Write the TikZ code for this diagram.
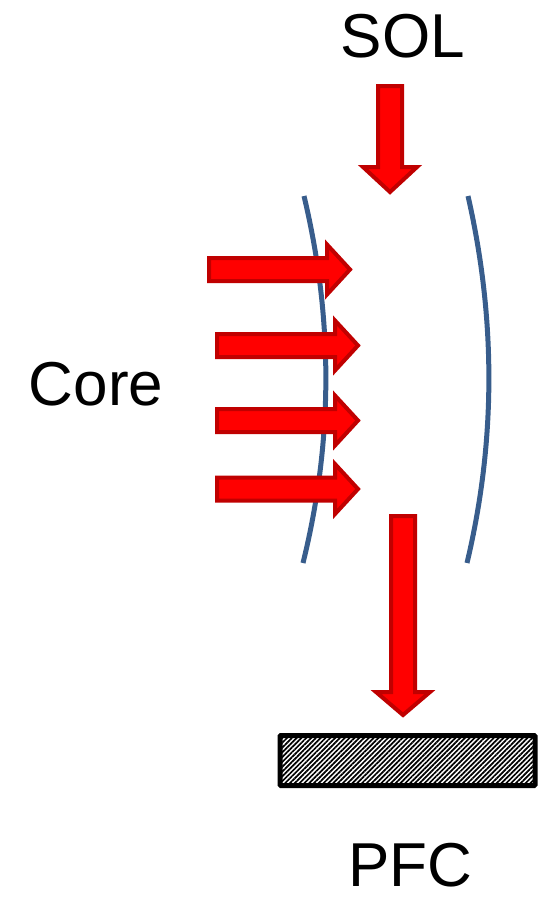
\documentclass[tikz,border=0pt]{standalone}
\usepackage{fontspec}
\setmainfont{Liberation Sans}
\usetikzlibrary{patterns.meta}
\definecolor{arrfill}{RGB}{255,0,0}
\definecolor{arrline}{RGB}{192,0,0}
\definecolor{curveblue}{RGB}{56,93,140}
\tikzset{
  bigarrow/.style={fill=arrfill, draw=arrline, line width=4pt, line join=miter},
  sepline/.style={draw=curveblue, line width=5pt},
  lbl/.style={font=\fontsize{62}{70}\selectfont, anchor=base, inner sep=0pt},
  pfcbox/.style={draw=black, line width=5pt, rounded corners=1pt,
    pattern={Lines[angle=45, distance=3.4pt, line width=1.7pt]}}
}
% horizontal arrow: left x, center y, head base x, tip x
\newcommand\hArrow[4]{%
  \path[bigarrow] (#1,#2-11.5) -- (#3,#2-11.5) -- (#3,#2-25) -- (#4,#2)
    -- (#3,#2+25) -- (#3,#2+11.5) -- (#1,#2+11.5) -- cycle;}
% vertical arrow: center x, top y, head base y, tip y
\newcommand\vArrow[4]{%
  \path[bigarrow] (#1-12,#2) -- (#1+12,#2) -- (#1+12,#3) -- (#1+27,#3) -- (#1,#4)
    -- (#1-27,#3) -- (#1-12,#3) -- cycle;}
\begin{document}
\begin{tikzpicture}[x=1pt, y=-1pt]
\useasboundingbox (0,0) rectangle (538,900);
% labels
\node[lbl] (sol) at (403,57) {SOL};
\node[lbl] (core) at (96,405) {Core};
\node[lbl, text depth=0pt] (pfc) at (410,886) {PFC};
% separatrix-like curves
\draw[sepline] (304,196) .. controls (333.3,318.7) and (333.3,440.3) .. (303,563);
\draw[sepline] (468,196) .. controls (496,319) and (496,441) .. (467,563);
% arrows
\vArrow{390}{86}{167}{192}
\hArrow{209}{269.5}{327}{350}
\hArrow{217}{345.5}{335}{358}
\hArrow{217}{420.5}{335}{358}
\hArrow{217}{489}{335}{358}
\vArrow{403}{516}{692}{715}
% PFC plate
\node[pfcbox, minimum width=255pt, minimum height=50pt, inner sep=0pt] (plate) at (407.5,760.5) {};
\end{tikzpicture}
\end{document}
